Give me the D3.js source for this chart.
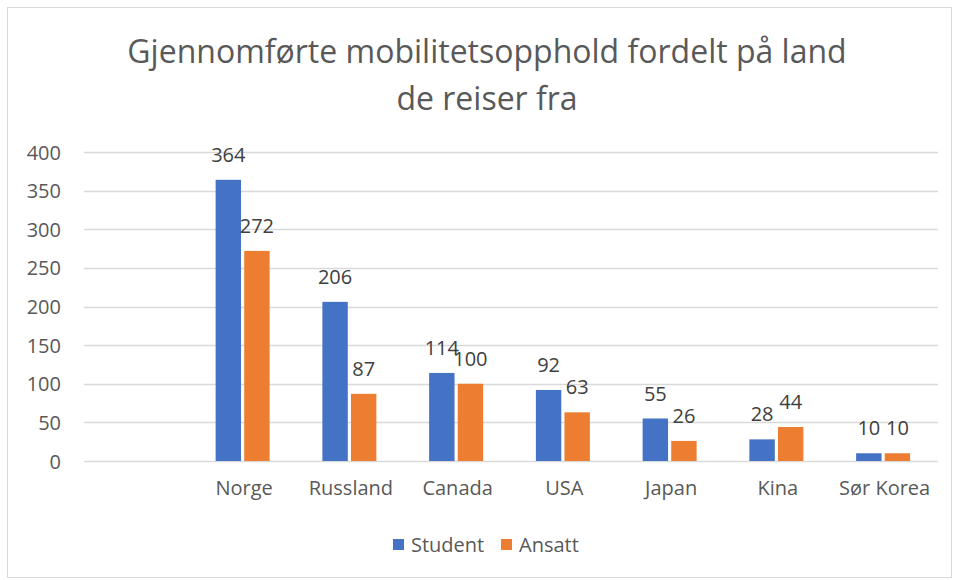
<!DOCTYPE html>
<html><head><meta charset="utf-8">
<script src="https://cdn.jsdelivr.net/npm/d3@7"></script>
<style>body{margin:0;background:#fff}svg{display:block}</style>
</head><body>
<script>
const categories = ["", "Norge", "Russland", "Canada", "USA", "Japan", "Kina", "Sør Korea"];
const student = [null, 364, 206, 114, 92, 55, 28, 10];
const ansatt  = [null, 272, 87, 100, 63, 26, 44, 10];
const seriesNames = ["Student", "Ansatt"];
const colors = ["#4472C4", "#ED7D31"];
const yTicks = [0, 50, 100, 150, 200, 250, 300, 350, 400];
const titleLines = ["Gjennomførte mobilitetsopphold fordelt på land", "de reiser fra"];

const W = 954, H = 580;
const font = "'Open Sans', 'Noto Sans', sans-serif";
const svg = d3.select("body").append("svg").attr("width", W).attr("height", H);
svg.append("rect").attr("x", 0).attr("y", 0).attr("width", W).attr("height", H).attr("fill", "#fff");
svg.append("rect").attr("x", 7.5).attr("y", 7.5).attr("width", W - 10).attr("height", H - 10)
  .attr("fill", "none").attr("stroke", "#D9D9D9").attr("stroke-width", 1);

const pLeft = 84, pRight = 938, pTop = 152, pBottom = 461;
const x = d3.scaleBand().domain(d3.range(categories.length)).range([pLeft, pRight]).padding(0);
const y = d3.scaleLinear().domain([0, 400]).range([pBottom, pTop]);

// gridlines
svg.append("g").selectAll("line").data(yTicks).join("line")
  .attr("x1", pLeft).attr("x2", pRight)
  .attr("y1", d => Math.round(y(d)) + 0.5).attr("y2", d => Math.round(y(d)) + 0.5)
  .attr("stroke", "#D9D9D9").attr("stroke-width", 1.3);

// y axis labels
const yAxis = d3.axisLeft(y).tickValues(yTicks).tickSize(0).tickPadding(0);
const gy = svg.append("g").attr("transform", `translate(61,0)`).call(yAxis);
gy.select(".domain").remove();
gy.selectAll("text").attr("font-family", font).attr("font-size", 20).attr("fill", "#595959").attr("dy", "0.35em");

// x axis labels
const xAxis = d3.axisBottom(x).tickFormat(i => categories[i]).tickSize(0).tickPadding(0);
const gx = svg.append("g").attr("transform", `translate(0,481)`).call(xAxis);
gx.select(".domain").remove();
gx.selectAll("text").attr("font-family", font).attr("font-size", 20).attr("fill", "#595959").attr("dy", "0.71em");

// bars
const barW = 24, gap = 6;
const xs = d3.scaleBand().domain([0, 1]).range([-(barW + gap / 2), barW + gap / 2]).paddingInner(gap / (2 * barW + gap));
const data = [];
categories.forEach((c, i) => {
  [student[i], ansatt[i]].forEach((v, s) => { if (v != null) data.push({ i, s, v }); });
});
svg.append("g").selectAll("rect").data(data).join("rect")
  .attr("x", d => x(d.i) + x.bandwidth() / 2 + xs(d.s) - 1.5)
  .attr("width", xs.bandwidth())
  .attr("y", d => y(d.v)).attr("height", d => y(0) - y(d.v))
  .attr("fill", d => colors[d.s]);

svg.append("g").selectAll("text").data(data).join("text")
  .attr("x", d => x(d.i) + x.bandwidth() / 2 + xs(d.s) - 1.5 + xs.bandwidth() / 2)
  .attr("y", d => y(d.v) - 18)
  .attr("text-anchor", "middle")
  .attr("font-family", font).attr("font-size", 20).attr("fill", "#404040")
  .text(d => d.v);

// title
svg.append("g").selectAll("text").data(titleLines).join("text")
  .attr("x", 487).attr("y", (d, i) => 63 + i * 47)
  .attr("text-anchor", "middle")
  .attr("font-family", font).attr("font-size", 32).attr("fill", "#595959")
  .text(d => d);

// legend
const lg = svg.append("g");
const legendPos = [393, 501];
seriesNames.forEach((n, s) => {
  lg.append("rect").attr("x", legendPos[s]).attr("y", 539).attr("width", 11).attr("height", 11).attr("fill", colors[s]);
  lg.append("text").attr("x", legendPos[s] + 18).attr("y", 552)
    .attr("font-family", font).attr("font-size", 20).attr("fill", "#595959").text(n);
});
</script>
</body></html>
